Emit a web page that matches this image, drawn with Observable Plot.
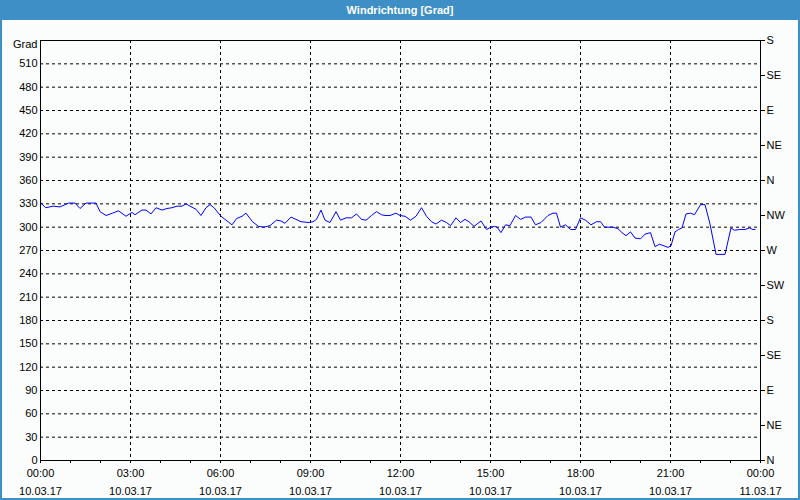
<!DOCTYPE html>
<html><head><meta charset="utf-8">
<script src="https://cdn.jsdelivr.net/npm/d3@7"></script>
<script src="https://cdn.jsdelivr.net/npm/@observablehq/plot@0.6"></script>
<style>
html,body{margin:0;padding:0;background:#fff;}
#wrap{position:relative;width:800px;height:500px;background:#fbfdfc;overflow:hidden;font-family:"Liberation Sans",Arial,sans-serif;}
#title{position:absolute;left:0;top:0;width:800px;height:20px;background:#3d8fc6;color:#fff;font-size:11px;font-weight:bold;text-align:center;line-height:20px;}
#chart{position:absolute;left:0;top:20px;}
#border{position:absolute;left:0;top:0;width:800px;height:500px;box-sizing:border-box;border:2px solid #3d8fc6;border-top:none;pointer-events:none;}
</style></head>
<body>
<div id="wrap">
  <div id="title">Windrichtung [Grad]</div>
  <div id="chart"></div>
  <div id="border"></div>
</div>
<script>
// Time in minutes after 10.03.17 00:00
const minutes = [0,10,26,39,56,69,79,91,111,119,131,144,156,171,183,189,203,211,221,231,243,253,263,273,283,
  291,299,311,321,331,339,347,361,369,383,392,403,411,424,436,447,459,472,481,489,501,511,521,537,545,552,561,569,579,
  591,600,611,622,632,642,651,662,672,682,689,699,711,719,729,740,751,762,772,782,791,802,812,820,831,840,849,857,867,
  881,892,901,908,913,921,930,939,950,960,970,981,990,1001,1015,1025,1032,1040,1050,1060,1070,1080,1090,1101,1112,1120,1128,1145,
  1155,1163,1171,1180,1189,1200,1209,1220,1229,1238,1247,1255,1261,1269,1276,1283,1291,1300,1308,1320,1329,1339,1351,1369,1381,1388,1398,1409,1418,1425,1429];
// Wind direction in degrees
const degrees = [332,325,327,326,331,331,324,331,331,320,315,318,321,314,319,316,322,322,317,325,322,324,325,327,327,
  330,327,323,315,325,329,325,314,310,303,311,314,318,307,301,300,302,309,308,305,313,310,307,306,307,310,322,309,306,
  320,309,312,312,317,310,309,315,320,316,315,315,318,315,314,309,314,325,314,307,304,309,306,302,312,306,310,307,301,
  308,297,300,301,300,293,303,302,315,310,313,313,303,306,315,318,318,300,303,297,297,312,309,303,307,307,300,300,
  298,293,289,294,286,285,291,293,275,278,276,274,276,294,297,299,317,318,316,329,329,304,265,265,299,296,297,297,299,297,297];

const yTicks = [0,30,60,90,120,150,180,210,240,270,300,330,360,390,420,450,480,510];
const compassTicks = [0,45,90,135,180,225,270,315,360,405,450,495,540];
const compassLabels = ["N","NE","E","SE","S","SW","W","NW","N","NE","E","SE","S"];
const xLabelTicks = [0,180,360,540,720,900,1080,1260,1440];
const timeLabels = ["00:00","03:00","06:00","09:00","12:00","15:00","18:00","21:00","00:00"];
const dateLabels = ["10.03.17","10.03.17","10.03.17","10.03.17","10.03.17","10.03.17","10.03.17","10.03.17","11.03.17"];
const hourTicks = d3.range(0, 1441, 60);
const gridYTicks = d3.range(30, 540, 30);
const gridXTicks = [180,360,540,720,900,1080,1260];

const data = minutes.map((m, i) => ({m, v: degrees[i]}));
const compassMap = new Map(compassTicks.map((t, i) => [t, compassLabels[i]]));
const xLabelMap = new Map(xLabelTicks.map((t, i) => [t, timeLabels[i] + "\n" + dateLabels[i]]));

const chart = Plot.plot({
  width: 800, height: 480,
  marginTop: 20, marginBottom: 40, marginLeft: 40, marginRight: 40,
  style: {background: "transparent", fontFamily: "'Liberation Sans', Arial, sans-serif", fontSize: "11px", color: "black"},
  x: {domain: [0, 1440]},
  y: {domain: [0, 540]},
  marks: [
    Plot.gridY(gridYTicks, {stroke: "black", strokeOpacity: 1, strokeDasharray: "3,3"}),
    Plot.gridX(gridXTicks, {stroke: "black", strokeOpacity: 1, strokeDasharray: "3,3"}),
    Plot.line(data, {x: "m", y: "v", stroke: "#0000ff", strokeWidth: 1}),
    Plot.frame({stroke: "black"}),
    Plot.axisY(yTicks, {anchor: "left", tickSize: 0, tickPadding: 3, tickFormat: d => String(d), label: null}),
    Plot.axisY(compassTicks, {anchor: "right", tickSize: 4, tickPadding: 2, tickFormat: d => compassMap.get(d), label: null}),
    Plot.axisX(hourTicks, {anchor: "bottom", tickSize: 3, tickFormat: () => "", label: null}),
    Plot.axisX(xLabelTicks, {anchor: "bottom", tickSize: 0, tickPadding: 4, lineHeight: 1.6, tickFormat: d => xLabelMap.get(d), label: null}),
    Plot.text(["Grad"], {frameAnchor: "top-left", dx: -3, dy: 4, textAnchor: "end", lineAnchor: "middle", fill: "black"})
  ]
});
document.getElementById("chart").appendChild(chart);
</script>
</body></html>
